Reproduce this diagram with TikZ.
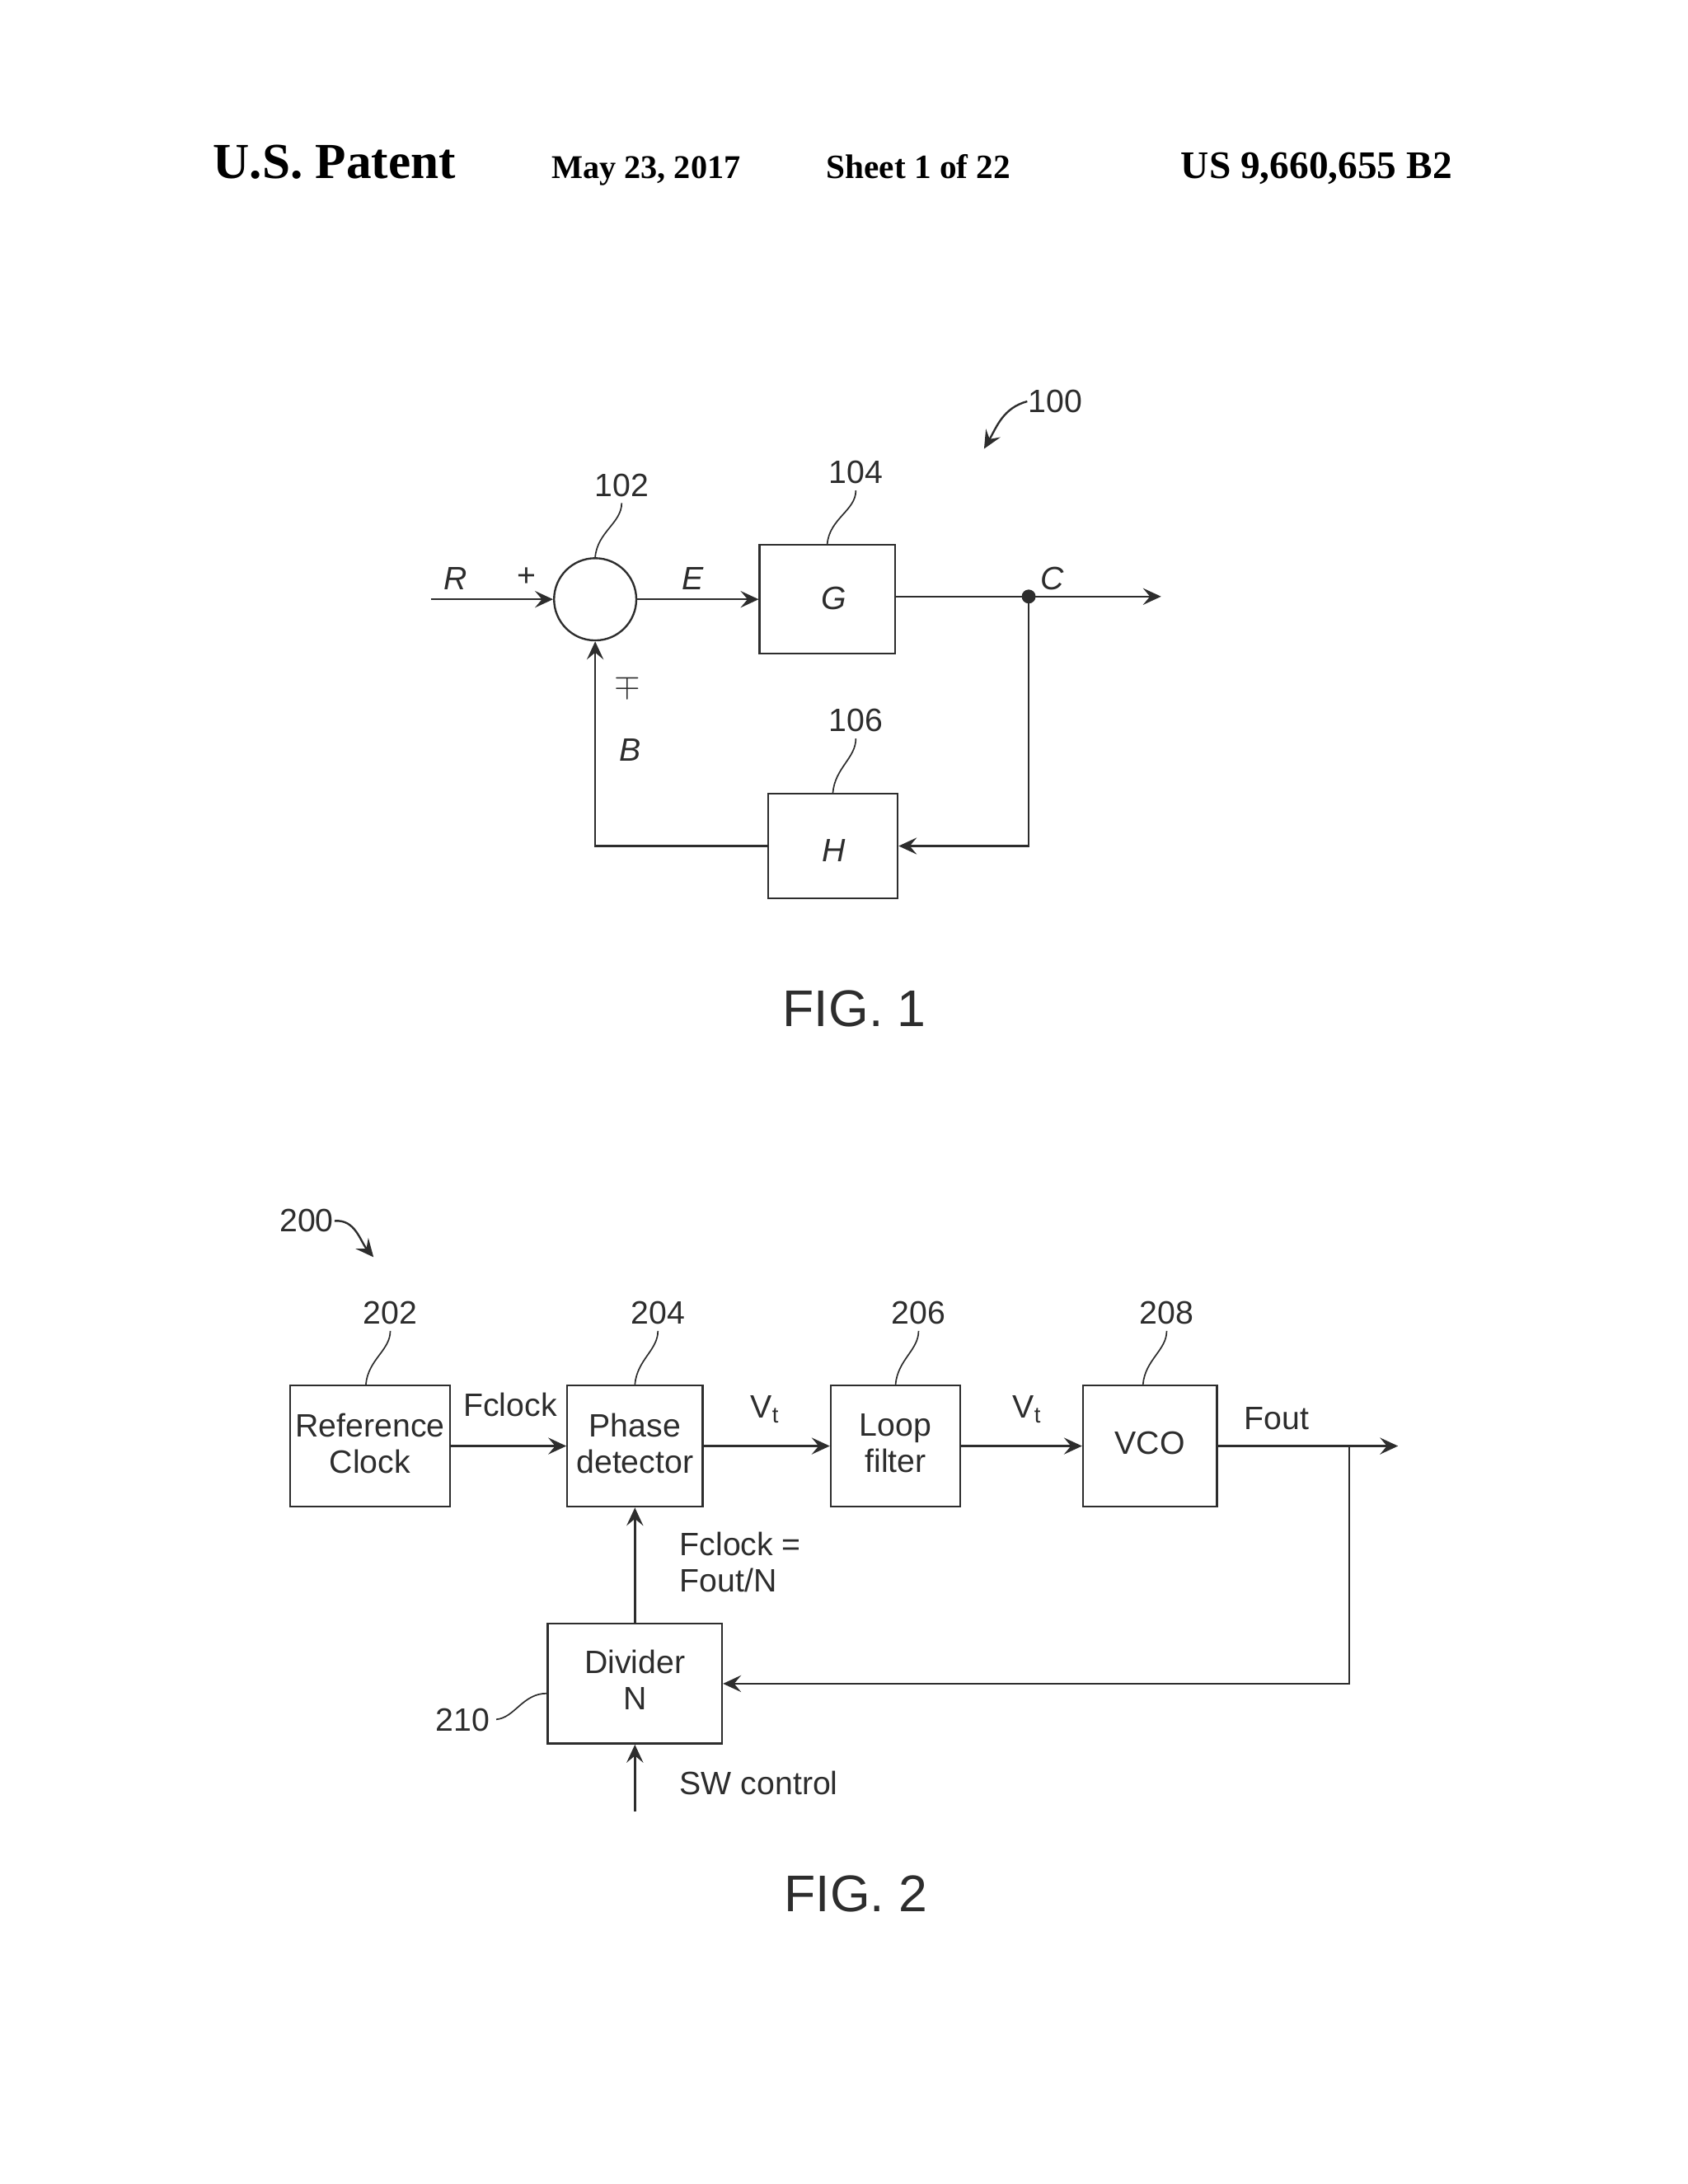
\documentclass[tikz,border=0pt]{standalone}
\usepackage{fontspec}
\usetikzlibrary{arrows.meta}
\setmainfont{Liberation Sans}
\newfontfamily\headfont{Liberation Serif}

\begin{document}
\begin{tikzpicture}[
    x=0.5pt, y=-0.5pt,
    line width=0.7pt,
    inkline/.style={draw=inkgray},
    flow/.style={inkline, -{Stealth[length=6.5pt, width=6pt, inset=2.5pt]}},
    leader/.style={inkline, line width=0.5pt, shorten <=2pt},
    block/.style={rectangle, inkline, inner sep=0pt, align=center, text=inkgray, text depth=2pt, font=\labelfont},
    label/.style={inner sep=0pt, text=inkgray, font=\labelfont},
    caption/.style={inner sep=0pt, text=inkgray, font=\fontsize{18.5}{22}\selectfont},
    head/.style={inner sep=0pt, text=black, anchor=base}
]
    \definecolor{inkgray}{RGB}{45,45,45}
    \def\labelfont{\fontsize{11.6}{13}\selectfont}

    \useasboundingbox (0,0) rectangle (1211,1567);

    \node[head, font=\headfont\bfseries\fontsize{18.1}{20}\selectfont] (patent) at (240,128) {U.S. Patent};
    \node[head, font=\headfont\bfseries\fontsize{11.9}{14}\selectfont] (date) at (463.5,128) {May 23, 2017};
    \node[head, font=\headfont\bfseries\fontsize{12.2}{14}\selectfont] (sheet) at (659,128) {Sheet 1 of 22};
    \node[head, font=\headfont\bfseries\fontsize{14}{16}\selectfont] (number) at (944.5,128) {US 9,660,655 B2};

    \node[circle, inkline, minimum size=29.5pt, inner sep=0pt] (sum) at (427,430) {};
    \node[block, minimum width=48.5pt, minimum height=39pt] (gain) at (593.5,430) {};
    \node[block, minimum width=46.5pt, minimum height=37.5pt] (back) at (597.5,607) {};
    \fill[inkgray] (738,428) circle (2.5pt);
    \coordinate (dot) at (738,428);
    \coordinate (rin) at (309,430);
    \coordinate (cout) at (833,428);

    \draw[flow] (rin) -- (sum);
    \draw[flow] (sum) -- (gain);
    \draw[inkline] (gain.east |- dot) -- (dot);
    \draw[flow] (dot) -- (cout);
    \draw[flow] (dot) |- (back.east);
    \draw[flow] (back.west) -| (sum.south);

    \node[label] (glabel) at (598,429) {\textit{G}};
    \node[label] (hlabel) at (598,610) {\textit{H}};
    \node[label] (rlabel) at (327,415) {\textit{R}};
    \node[label] (plus) at (378,414) {+};
    \node[label] (elabel) at (497,415) {\textit{E}};
    \node[label] (clabel) at (755,415) {\textit{C}};
    \node[label] (minus) at (450,492) {$\mp$};
    \node[label] (blabel) at (452,538) {\textit{B}};

    \node[label] (n100) at (757,288) {100};
    \node[label] (n102) at (446,348) {102};
    \node[label] (n104) at (614,339) {104};
    \node[label] (n106) at (614,517) {106};
    \coordinate (a100) at (706,322);

    \draw[flow] (n100.west) to[out=195, in=60] (a100);
    \draw[leader] (n102.south) to[out=-90, in=85] (sum.north);
    \draw[leader] (n104.south) to[out=-90, in=85] (gain.north);
    \draw[leader] (n106.south) to[out=-90, in=85] (back.north);

    \node[caption] (fig1) at (613,724) {FIG. 1};

    \node[block, minimum width=57.5pt, minimum height=43.5pt] (clock) at (265.5,1037.5) {Reference\\Clock};
    \node[block, minimum width=48.5pt, minimum height=43.5pt] (phase) at (455.5,1037.5) {Phase\\detector};
    \node[block, minimum width=46.5pt, minimum height=43.5pt] (loop) at (642.5,1037.5) {Loop\\filter};
    \node[block, minimum width=48pt, minimum height=43.5pt] (vco) at (825,1037.5) {VCO};
    \node[block, text depth=3pt, minimum width=62.5pt, minimum height=43pt] (divider) at (455.5,1208) {Divider\\N};
    \coordinate (fout) at (1003,1037.5);
    \coordinate (tap) at (968,1037.5);
    \coordinate (sw) at (455.5,1300);

    \draw[flow] (clock) -- (phase);
    \draw[flow] (phase) -- (loop);
    \draw[flow] (loop) -- (vco);
    \draw[flow] (vco) -- (fout);
    \draw[flow] (tap) |- (divider.east);
    \draw[flow] (divider) -- (phase);
    \draw[flow] (sw) -- (divider);

    \node[label] (fclock) at (366,1008) {Fclock};
    \node[label] (vt1) at (549,1011) {V\textsubscript{t}};
    \node[label] (vt2) at (737,1011) {V\textsubscript{t}};
    \node[label] (foutl) at (916,1018) {Fout};
    \node[label, align=left, anchor=west] (ratio) at (487,1121) {Fclock =\\Fout/N};
    \node[label, anchor=west] (swl) at (487,1279) {SW control};

    \node[label] (n200) at (220,876) {200};
    \node[label] (n202) at (280,942) {202};
    \node[label] (n204) at (472,942) {204};
    \node[label] (n206) at (659,942) {206};
    \node[label] (n208) at (837,942) {208};
    \node[label] (n210) at (332,1234) {210};
    \coordinate (a200) at (268,902);

    \draw[flow] (n200.east) to[out=5, in=130] (a200);
    \draw[leader] (n202.south) to[out=-90, in=85] ([xshift=-1.5pt]clock.north);
    \draw[leader] (n204.south) to[out=-90, in=85] (phase.north);
    \draw[leader] (n206.south) to[out=-90, in=85] (loop.north);
    \draw[leader] (n208.south) to[out=-90, in=85] ([xshift=-2.5pt]vco.north);
    \draw[leader] (n210.east) to[out=5, in=180] ([yshift=-3.5pt]divider.west);

    \node[caption] (fig2) at (614,1359) {FIG. 2};
\end{tikzpicture}
\end{document}
